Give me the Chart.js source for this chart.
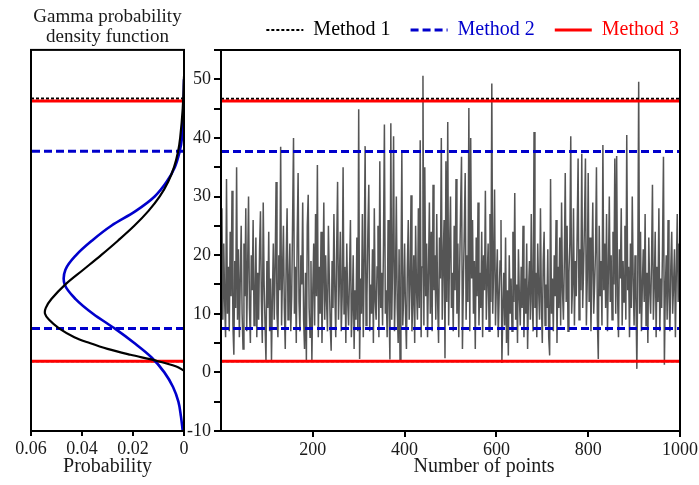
<!DOCTYPE html>
<html>
<head>
<meta charset="utf-8">
<script src="https://cdn.jsdelivr.net/npm/chart.js@4.4.0/dist/chart.umd.min.js"></script>
<style>
  html, body { margin: 0; padding: 0; background: #fff; }
  #wrap { position: relative; width: 699px; height: 485px; }
  #wrap canvas { position: absolute; left: 0; top: 0; }
</style>
</head>
<body>
<div id="wrap">
  <canvas id="pdf" width="699" height="485"></canvas>
  <canvas id="series" width="699" height="485"></canvas>
</div>
<script>
// one value every 2 points
const seriesStep = 2;
const seriesValues = [
  14, 28, 9, 22, 12, 6, 33, 10, 18, 7, 24, 13, 31, 8, 3, 19, 11, 35, 9, 21,
  6, 16, 25, 10, 4, 22, 13, 28, 7, 18, 30, 11, 5, 20, 14, 26, 8, 12, 23, 6,
  17, 9, 21, 27.5, 12, 5, 29, 15, 8, 2, 19, 11, 24, 7, 16, 2.1, 13, 22, 9, 18,
  32.5, 10, 6, 20, 14, 38.5, 8, 17, 25, 11, 4, 19, 28, 9, 15, 22, 7, 13, 26, 40,
  10, 18, 5, 23, 34, 12, 7, 20, 15, 29, 9, 4, 17, 2.1, 25, 30.3, 11, 6, 19, 2,
  14, 22, 8, 27, 13, 35.4, 6, 18, 10, 24, 5, 15, 29, 9, 20, 12, 7, 25, 16, 8,
  3.7, 19, 11, 27, 14, 6, 21, 32.5, 9, 16, 24, 7, 13, 35, 10, 18, 5, 22, 12, 8,
  17, 26, 6, 11, 20, 4, 14, 9, 23, 7, 44.9, 2.3, 16, 10, 27, 6, 19, 38.6, 8, 13,
  24, 32, 7, 15, 10, 21, 5, 28, 12, 9, 18, 25, 6, 36, 11, 17, 8, 22, 42.3, 10,
  14, 6, 26, 12, 2.2, 42.5, 9, 19, 40.3, 7, 15, 30, 11, 5, 21, 2.1, 16, 37.5, 8, 13,
  22, 10, 4, 18, 26, 9, 15, 30.2, 7, 12, 20, 5, 25, 14, 9, 28, 11, 39.6, 6, 18,
  50.6, 8, 35, 13, 22, 6, 17, 29, 10, 24, 7, 32, 14, 20, 9, 27, 12, 5, 23, 16,
  40, 9, 19, 26, 2.4, 36, 12, 42.7, 8, 21, 30, 11, 17, 7, 25, 14, 33, 10, 22, 6,
  18, 28, 36.8, 4, 15, 24, 34, 9, 20, 12, 45.1, 7, 40, 16, 26, 10, 19, 4, 23, 13,
  29, 8, 17, 11, 24, 6, 20, 14, 31, 9, 16, 22, 7, 27, 12, 49.3, 10, 18, 31.2, 8,
  15, 21, 6, 13, 19, 26, 1.6, 11, 17, 8, 23, 5, 14, 2.9, 20, 10, 16, 7, 24, 12,
  30.6, 9, 15, 5, 21, 13, 8, 18, 11, 25, 6, 16, 10, 22, 4, 14, 19, 9, 27, 12,
  7, 41, 11, 17, 6, 22, 14, 9, 28, 12, 5, 19, 24, 8, 15, 11, 21, 6, 2.9, 33,
  10, 16, 7, 20, 13, 26, 5, 18, 11, 23, 8, 29, 14, 9, 19, 34, 12, 25, 7, 17,
  22, 40.3, 10, 15, 28, 8, 19, 13, 24, 36.5, 9, 21, 14, 37.3, 11, 18, 26, 36.5, 8, 16,
  34, 12, 23, 7, 18, 29, 10, 15, 21, 35, 9, 2.3, 25, 13, 19, 8, 38.8, 14, 22, 11,
  27, 7, 17, 30, 12, 20, 9, 24, 15, 36.5, 10, 36.9, 13, 6, 21, 16, 28, 8, 19, 12,
  25, 9, 40.5, 14, 18, 6, 22, 11, 30, 16, 8, 20, 13, 0.6, 17, 49.6, 10, 24, 7, 15,
  21, 12, 27, 8, 17, 5, 23, 14, 10, 19, 32, 9, 15, 24, 6, 18, 12, 28, 7, 16,
  11, 22, 36.8, 1.3, 14, 20, 9, 26, 13, 7, 18, 24, 10, 15, 21, 6, 17, 27, 12, 22
];

// lower / upper limits of each method
const method1Limits = [1.9, 46.7];
const method2Limits = [7.5, 37.7];
const method3Limits = [1.9, 46.3];

// gamma pdf (black) and the other fit (blue), value -> probability
const gammaLevels  = [0.3, 1, 2, 3, 4, 5, 6, 7.5, 9, 10, 11, 12.5, 15, 17.5, 20, 22.5, 25, 27.5, 30, 32.5, 35, 37.5, 40, 45, 50.5];
const gammaDensity = [0, 0.003, 0.011, 0.021, 0.030, 0.037, 0.043, 0.049, 0.053, 0.0545, 0.0542, 0.052, 0.0465, 0.0395, 0.0325, 0.0258, 0.0195, 0.014, 0.0095, 0.0062, 0.0039, 0.0024, 0.0015, 0.0005, 0];
const fitLevels  = [-10, -7.5, -5, -2.5, 0, 2.5, 5, 7.5, 10, 12.5, 15, 17.5, 20, 22.5, 25, 27.5, 30, 32.5, 35, 37.5, 40, 45, 50];
const fitDensity = [0.0005, 0.0012, 0.0022, 0.0043, 0.0077, 0.0126, 0.0195, 0.0272, 0.0357, 0.0425, 0.0468, 0.0465, 0.0423, 0.036, 0.0285, 0.019, 0.0115, 0.0068, 0.0036, 0.0018, 0.0008, 0.0002, 0];

const probTicks = [0, 0.02, 0.04, 0.06];
const pointTicks = [200, 400, 600, 800, 1000];

const FONT = "'Liberation Serif', 'Times New Roman', serif";
const TXT = '#1a1a1a';
const BLUE = '#0000cc';
const RED = '#ff0000';

const boxPlugin = {
  id: 'box',
  afterDraw(chart) {
    const a = chart.chartArea, ctx = chart.ctx;
    ctx.save();
    ctx.strokeStyle = '#000';
    ctx.lineWidth = 2;
    ctx.strokeRect(a.left, a.top, a.right - a.left, a.bottom - a.top);
    ctx.restore();
  }
};

function hLine(level, x0, x1, color, width, dash) {
  return {
    data: [{x: x0, y: level}, {x: x1, y: level}],
    showLine: true, pointRadius: 0,
    borderColor: color, borderWidth: width, borderDash: dash
  };
}

function limitLines(x0, x1) {
  return [
    hLine(method3Limits[0], x0, x1, RED, 3, []),
    hLine(method3Limits[1], x0, x1, RED, 3, []),
    hLine(method2Limits[0], x0, x1, BLUE, 3, [8, 4]),
    hLine(method2Limits[1], x0, x1, BLUE, 3, [8, 4]),
    hLine(method1Limits[0], x0, x1, '#000', 2, [3, 2]),
    hLine(method1Limits[1], x0, x1, '#000', 2, [3, 2])
  ];
}

// ---- left panel : density
new Chart(document.getElementById('pdf'), {
  type: 'scatter',
  data: {
    datasets: [
      {
        data: gammaLevels.map((v, i) => ({x: gammaDensity[i], y: v})),
        showLine: true, pointRadius: 0, tension: 0.35,
        borderColor: '#000', borderWidth: 2.2
      },
      {
        data: fitLevels.map((v, i) => ({x: fitDensity[i], y: v})),
        showLine: true, pointRadius: 0, tension: 0.35,
        borderColor: BLUE, borderWidth: 2.6
      }
    ].concat(limitLines(0, 0.06))
  },
  options: {
    responsive: false,
    animation: false,
    layout: {padding: {left: 31, right: 515, top: 0, bottom: 0}},
    plugins: {
      legend: {display: false},
      tooltip: {enabled: false},
      title: {
        display: true,
        text: ['Gamma probability', 'density function'],
        color: TXT,
        font: {family: FONT, size: 19, weight: 'normal', lineHeight: 1.05},
        padding: {top: 7, bottom: 3}
      }
    },
    scales: {
      x: {
        type: 'linear', reverse: true, min: 0, max: 0.06,
        afterBuildTicks: s => { s.ticks = probTicks.map(v => ({value: v})); },
        afterFit: s => { s.height = 54; },
        ticks: {
          color: TXT, font: {family: FONT, size: 18}, padding: 2, maxRotation: 0, autoSkip: false,
          callback: v => v === 0 ? '0' : v.toFixed(2)
        },
        grid: {display: true, drawOnChartArea: false, drawTicks: true, tickLength: 5, color: '#000', lineWidth: 2},
        border: {display: true, color: '#000', width: 2},
        title: {display: true, text: 'Probability', color: TXT, font: {family: FONT, size: 20}, padding: {top: 0, bottom: 6}}
      },
      y: {type: 'linear', min: -10, max: 55, display: false}
    }
  },
  plugins: [boxPlugin]
});

// ---- right panel : the series
const pointsTitle = {
  id: 'pointsTitle',
  afterDraw(chart) {
    const ctx = chart.ctx;
    ctx.save();
    ctx.fillStyle = TXT;
    ctx.font = '20px ' + FONT;
    ctx.textAlign = 'center';
    ctx.textBaseline = 'middle';
    ctx.fillText('Number of points', 484, 467);
    ctx.restore();
  }
};

const legendItems = [
  {text: 'Method 1', fontColor: '#000', strokeStyle: '#000', fillStyle: '#000', lineWidth: 2, lineDash: [3, 2], pointStyle: 'line', hidden: false},
  {text: 'Method 2', fontColor: BLUE, strokeStyle: BLUE, fillStyle: BLUE, lineWidth: 3, lineDash: [8, 4], pointStyle: 'line', hidden: false},
  {text: 'Method 3', fontColor: RED, strokeStyle: RED, fillStyle: RED, lineWidth: 3, lineDash: [], pointStyle: 'line', hidden: false}
];

new Chart(document.getElementById('series'), {
  type: 'scatter',
  data: {
    datasets: limitLines(0, 1000).concat([{
      data: seriesValues.map((v, i) => ({x: i * seriesStep, y: v})),
      showLine: true, pointRadius: 0,
      borderColor: '#555555', borderWidth: 1.5
    }])
  },
  options: {
    responsive: false,
    animation: false,
    layout: {padding: {left: 0, right: 0, top: 0, bottom: 0}},
    plugins: {
      tooltip: {enabled: false},
      legend: {
        display: true, position: 'top', align: 'end',
        labels: {
          usePointStyle: true, pointStyleWidth: 37, padding: 20,
          font: {family: FONT, size: 20},
          generateLabels: () => legendItems
        }
      }
    },
    scales: {
      x: {
        type: 'linear', min: 0, max: 1000,
        afterBuildTicks: s => { s.ticks = pointTicks.map(v => ({value: v})); },
        afterFit: s => { s.height = 54; s.paddingRight = 19; },
        ticks: {color: TXT, font: {family: FONT, size: 18}, padding: 2, maxRotation: 0, autoSkip: false, callback: v => String(v)},
        grid: {display: true, drawOnChartArea: false, drawTicks: true, tickLength: 6, color: '#000', lineWidth: 2},
        border: {display: true, color: '#000', width: 2}
      },
      y: {
        type: 'linear', min: -10, max: 55,
        afterFit: s => { s.width = 221; },
        ticks: {
          stepSize: 5, color: TXT, font: {family: FONT, size: 18}, padding: 3, autoSkip: false,
          callback: v => v % 10 === 0 ? String(v) : ''
        },
        grid: {display: true, drawOnChartArea: false, drawTicks: true, tickLength: 7, color: '#000', lineWidth: 2},
        border: {display: true, color: '#000', width: 2}
      }
    }
  },
  plugins: [boxPlugin, pointsTitle]
});
</script>
</body>
</html>
